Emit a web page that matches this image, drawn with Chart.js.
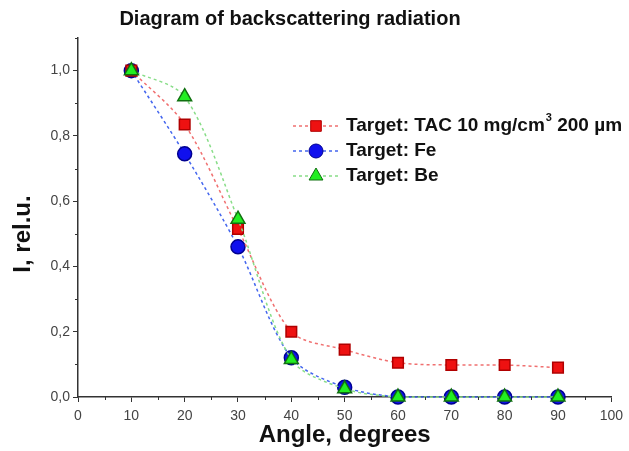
<!DOCTYPE html>
<html>
<head>
<meta charset="utf-8">
<script src="https://cdn.jsdelivr.net/npm/chart.js@4.4.1/dist/chart.umd.min.js"></script>
<style>
  html, body { margin: 0; padding: 0; background: #fff; }
  #wrap { width: 629px; height: 451px; }
</style>
</head>
<body>
<div id="wrap"><canvas id="myChart" width="629" height="451"></canvas></div>
<script>
// values
const angles = [10, 20, 30, 40, 50, 60, 70, 80, 90];
const tacValues = [1.0, 0.835, 0.515, 0.2, 0.145, 0.105, 0.098, 0.098, 0.09];
const feValues = [1.0, 0.745, 0.46, 0.12, 0.03, 0, 0, 0, 0];
const beValues = [1.0, 0.92, 0.545, 0.115, 0.025, 0, 0, 0, 0];

const xTicks = [0, 10, 20, 30, 40, 50, 60, 70, 80, 90, 100];
const yTicks = [0, 0.2, 0.4, 0.6, 0.8, 1.0];

const FONT = "Arial, 'Liberation Sans', sans-serif";
const toPoints = (vals) => angles.map((a, i) => ({ x: a, y: vals[i] }));

// minor ticks, title, y axis title and legend
const extras = {
  id: "extras",
  afterDraw(chart) {
    const c = chart.ctx;
    const x = chart.scales.x, y = chart.scales.y;
    c.save();
    c.strokeStyle = "#333";
    c.lineWidth = 1;
    for (let v = 5; v < 100; v += 10) {
      const px = Math.round(x.getPixelForValue(v)) + 0.5;
      c.beginPath(); c.moveTo(px, y.bottom); c.lineTo(px, y.bottom + 3); c.stroke();
    }
    for (let v = 0.1; v < 1.1; v += 0.2) {
      const py = Math.round(y.getPixelForValue(v)) + 0.5;
      c.beginPath(); c.moveTo(x.left, py); c.lineTo(x.left - 3, py); c.stroke();
    }

    c.fillStyle = "#111";
    c.font = "bold 20px " + FONT;
    c.textAlign = "center";
    c.textBaseline = "middle";
    c.fillText("Diagram of backscattering radiation", 290, 19);

    c.save();
    c.translate(23, 234);
    c.rotate(-Math.PI / 2);
    c.font = "bold 24px " + FONT;
    c.fillText("I, rel.u.", 0, 0);
    c.restore();

    const rows = [
      { ds: 0, yy: 126 },
      { ds: 1, yy: 151 },
      { ds: 2, yy: 176 }
    ];
    rows.forEach((r) => {
      const ds = chart.data.datasets[r.ds];
      c.save();
      c.setLineDash([3, 3]);
      c.strokeStyle = ds.borderColor;
      c.lineWidth = 1.5;
      c.beginPath(); c.moveTo(293, r.yy); c.lineTo(339, r.yy); c.stroke();
      c.restore();
      c.fillStyle = ds.pointBackgroundColor;
      c.strokeStyle = ds.pointBorderColor;
      c.lineWidth = 1;
      Chart.helpers.drawPoint(c, {
        pointStyle: ds.pointStyle,
        radius: ds.pointRadius,
        borderWidth: 1
      }, 316, r.yy);
      c.fillStyle = "#111";
      c.textAlign = "left";
      c.font = "bold 19px " + FONT;
      if (r.ds === 0) {
        let tx = 346;
        const a = "Target: TAC 10 mg/cm";
        c.fillText(a, tx, r.yy);
        tx += c.measureText(a).width;
        c.font = "bold 11px " + FONT;
        c.fillText("3", tx + 1, r.yy - 8);
        tx += c.measureText("3").width + 1;
        c.font = "bold 19px " + FONT;
        c.fillText(" 200 \u00b5m", tx, r.yy);
      } else {
        c.fillText(ds.label, 346, r.yy);
      }
    });
    c.restore();
  }
};

const ctx = document.getElementById("myChart").getContext("2d");
const myChart = new Chart(ctx, {
  type: "line",
  data: {
    datasets: [
      {
        label: "Target: TAC 10 mg/cm3 200 \u00b5m",
        data: toPoints(tacValues),
        borderColor: "#f07070",
        pointBackgroundColor: "#ee1111",
        pointBorderColor: "#b00000",
        pointStyle: "rect",
        pointRadius: 7.5,
        borderDash: [3, 3],
        borderWidth: 1.5,
        tension: 0.3,
        order: 2
      },
      {
        label: "Target: Fe",
        data: toPoints(feValues),
        borderColor: "#4466ee",
        pointBackgroundColor: "#1010ee",
        pointBorderColor: "#000090",
        pointStyle: "circle",
        pointRadius: 7,
        borderDash: [3, 3],
        borderWidth: 1.5,
        tension: 0.3,
        order: 3
      },
      {
        label: "Target: Be",
        data: toPoints(beValues),
        borderColor: "#88dd88",
        pointBackgroundColor: "#22ee22",
        pointBorderColor: "#107010",
        pointStyle: "triangle",
        pointRadius: 8,
        borderDash: [3, 3],
        borderWidth: 1.5,
        tension: 0.3,
        order: 1
      }
    ]
  },
  options: {
    responsive: false,
    animation: false,
    clip: false,
    layout: { padding: { top: 38, right: 17, left: 0, bottom: 0 } },
    plugins: {
      legend: { display: false },
      tooltip: { enabled: false }
    },
    elements: { point: { borderWidth: 1 } },
    scales: {
      x: {
        type: "linear",
        min: 0,
        max: 100,
        afterFit: (s) => { s.height = 54; },
        afterBuildTicks: (s) => { s.ticks = xTicks.map((v) => ({ value: v })); },
        border: { display: true, color: "#333", width: 1.5 },
        grid: { drawOnChartArea: false, tickLength: 5, tickColor: "#333" },
        ticks: {
          color: "#444",
          padding: 6,
          maxRotation: 0,
          font: { family: FONT, size: 14 },
          callback: (v) => String(v)
        },
        title: {
          display: true,
          text: "Angle, degrees",
          color: "#111",
          padding: { top: 0, bottom: 1 },
          font: { family: FONT, size: 24, weight: "bold" }
        }
      },
      y: {
        type: "linear",
        min: 0,
        max: 1.1,
        afterFit: (s) => { s.width = 78; },
        afterBuildTicks: (s) => { s.ticks = yTicks.map((v) => ({ value: v })); },
        border: { display: true, color: "#333", width: 1.5 },
        grid: { drawOnChartArea: false, tickLength: 5, tickColor: "#333" },
        ticks: {
          color: "#444",
          padding: 3,
          font: { family: FONT, size: 14 },
          callback: (v) => v.toFixed(1).replace(".", ",")
        }
      }
    }
  },
  plugins: [extras]
});
</script>
</body>
</html>
